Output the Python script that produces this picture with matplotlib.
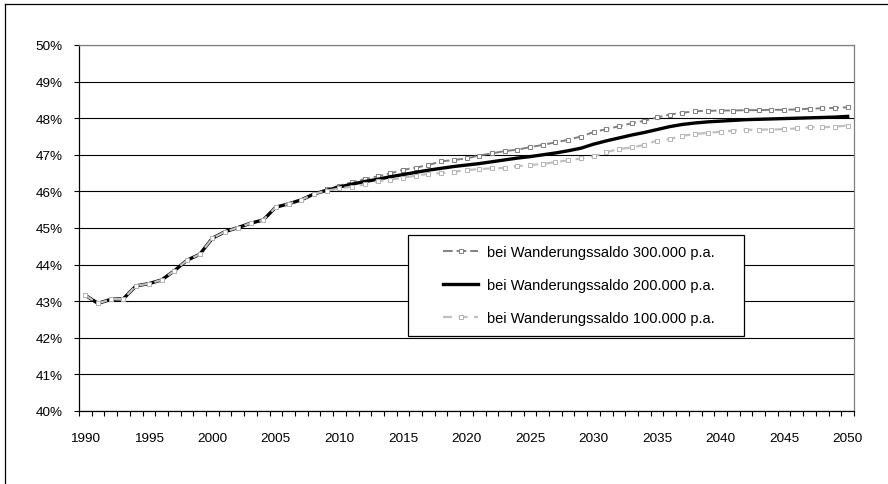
import numpy as np
import matplotlib
matplotlib.use("Agg")
import matplotlib.pyplot as plt
from matplotlib.lines import Line2D
from matplotlib.patches import Rectangle
from matplotlib.ticker import FixedLocator, FuncFormatter

plt.rcParams['font.family'] = ['Liberation Sans', 'DejaVu Sans']

jahre = list(range(1990, 2051))

# gemeinsame Werte bis 2008
historie = [43.16, 42.94, 43.05, 43.07, 43.42, 43.48, 43.58, 43.83, 44.12, 44.28,
            44.72, 44.90, 45.01, 45.13, 45.22, 45.57, 45.66, 45.77, 45.93]

# Projektion 2009-2050
saldo_300 = [46.06, 46.16, 46.25, 46.34, 46.41, 46.49, 46.59, 46.65, 46.72, 46.82,
             46.86, 46.90, 46.98, 47.04, 47.10, 47.14, 47.21, 47.27, 47.34, 47.41,
             47.50, 47.62, 47.70, 47.78, 47.86, 47.93, 48.02, 48.10, 48.15, 48.19,
             48.20, 48.21, 48.21, 48.22, 48.22, 48.23, 48.23, 48.24, 48.26, 48.27,
             48.28, 48.30]
saldo_200 = [46.03, 46.12, 46.20, 46.27, 46.33, 46.40, 46.46, 46.52, 46.58, 46.63,
             46.68, 46.72, 46.76, 46.81, 46.86, 46.91, 46.95, 47.00, 47.05, 47.11,
             47.18, 47.29, 47.38, 47.46, 47.54, 47.61, 47.69, 47.77, 47.83, 47.87,
             47.90, 47.92, 47.94, 47.96, 47.97, 47.98, 47.99, 48.00, 48.01, 48.02,
             48.03, 48.05]
saldo_100 = [46.02, 46.08, 46.13, 46.19, 46.28, 46.32, 46.37, 46.43, 46.48, 46.50,
             46.54, 46.58, 46.61, 46.63, 46.64, 46.69, 46.72, 46.75, 46.80, 46.85,
             46.90, 46.96, 47.07, 47.16, 47.20, 47.27, 47.39, 47.43, 47.52, 47.57,
             47.60, 47.63, 47.66, 47.68, 47.69, 47.69, 47.70, 47.72, 47.75, 47.75,
             47.77, 47.80]

labels = ["bei Wanderungssaldo 300.000 p.a.",
          "bei Wanderungssaldo 200.000 p.a.",
          "bei Wanderungssaldo 100.000 p.a."]

W, H = 888, 485
fig = plt.figure(figsize=(W / 100, H / 100), dpi=100)
ax = fig.add_axes([79 / W, 1 - 412 / H, 775 / W, 366 / H])

l300, = ax.plot(jahre, historie + saldo_300, color="#808080", lw=1.4,
                linestyle=(0, (5, 2)), marker="s", markersize=2.6,
                markerfacecolor="white", markeredgecolor="#808080",
                markeredgewidth=0.7, zorder=3)
l200, = ax.plot(jahre, historie + saldo_200, color="black", lw=2.4, zorder=4)
l100, = ax.plot(jahre, historie + saldo_100, color="#c0c0c0", lw=1.6,
                linestyle=(0, (4, 3)), marker="s", markersize=2.6,
                markerfacecolor="white", markeredgecolor="#b4b4b4",
                markeredgewidth=0.7, zorder=5)

ax.set_xlim(1989.5, 2050.5)
ax.set_ylim(40, 50)

ax.xaxis.set_major_locator(FixedLocator(list(range(1990, 2051, 5))))
ax.xaxis.set_minor_locator(FixedLocator(list(np.arange(1989.5, 2051, 1.0))))
ax.tick_params(axis="x", which="major", length=0, pad=15, labelsize=9.7)
ax.tick_params(axis="x", which="minor", length=3.5, width=0.8, direction="out")
ax.set_yticks(range(40, 51))
ax.yaxis.set_major_formatter(FuncFormatter(lambda v, p: "%d%%" % v))
ax.tick_params(axis="y", length=3.5, width=0.8, direction="out", pad=8,
               labelsize=9.7)

ax.set_axisbelow(True)
ax.grid(axis="y", color="black", lw=0.8)
ax.spines["left"].set_color("black")
ax.spines["bottom"].set_color("black")
ax.spines["top"].set_color("#808080")
ax.spines["right"].set_color("#808080")
for s in ax.spines.values():
    s.set_linewidth(0.9)

# Legendenrahmen
box = Rectangle((408 / W, 1 - 337 / H), 336 / W, 101 / H, transform=fig.transFigure,
                facecolor="white", edgecolor="black", lw=0.9, zorder=6)
ax.add_artist(box)
leg = ax.legend([l300, l200, l100], labels, loc="upper left",
                bbox_to_anchor=(443 / W, 1 - 246 / H), bbox_transform=fig.transFigure,
                frameon=False, borderpad=0, borderaxespad=0, handlelength=2.4,
                handletextpad=0.6, labelspacing=1.3, fontsize=10.5)
leg.set_zorder(7)

# aeusserer Rahmen
fig.add_artist(Line2D([4.5 / W, 4.5 / W], [0, 1 - 4.5 / H], color="black", lw=0.9))
fig.add_artist(Line2D([4.5 / W, 1], [1 - 4.5 / H, 1 - 4.5 / H], color="black", lw=0.9))

fig.savefig("out.png", dpi=100)
